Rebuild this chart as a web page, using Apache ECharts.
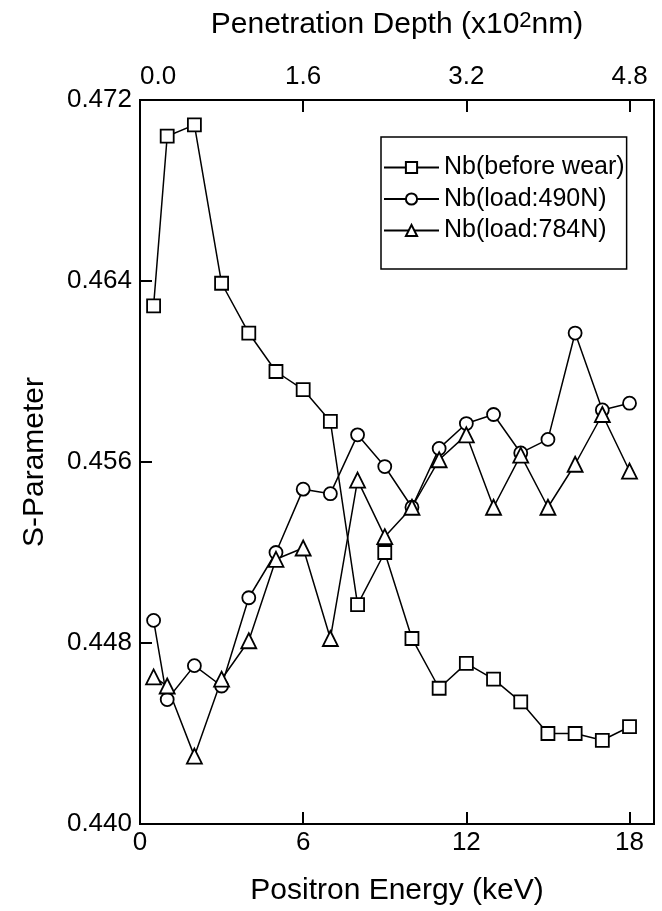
<!DOCTYPE html>
<html>
<head>
<meta charset="utf-8">
<script src="https://cdn.jsdelivr.net/npm/echarts@6/dist/echarts.min.js"></script>
<style>
  html, body { margin: 0; padding: 0; background: #fff; }
  #chart { width: 662px; height: 911px; }
</style>
</head>
<body>
<div id="chart"></div>
<script>
// positron energy (keV)
var energy = [0.5, 1, 2, 3, 4, 5, 6, 7, 8, 9, 10, 11, 12, 13, 14, 15, 16, 17, 18];
// S-parameter values
var beforeWear = [0.4629, 0.4704, 0.4709, 0.4639, 0.4617, 0.4600, 0.4592, 0.4578, 0.4497, 0.4520,
                  0.4482, 0.4460, 0.4471, 0.4464, 0.4454, 0.4440, 0.4440, 0.4437, 0.4443];
var load490 = [0.4490, 0.4455, 0.4470, 0.4461, 0.4500, 0.4520, 0.4548, 0.4546, 0.4572, 0.4558,
               0.4540, 0.4566, 0.4577, 0.4581, 0.4564, 0.4570, 0.4617, 0.4583, 0.4586];
var load784 = [0.4465, 0.4461, 0.4430, 0.4464, 0.4481, 0.4517, 0.4522, 0.4482, 0.4552, 0.4527,
               0.4540, 0.4561, 0.4572, 0.4540, 0.4563, 0.4540, 0.4559, 0.4581, 0.4556];
var seriesNames = ['Nb(before wear)', 'Nb(load:490N)', 'Nb(load:784N)'];

var font = 'Liberation Sans, Arial, sans-serif';
var eMax = 18.9;
var depthMax = eMax * 4.8 / 18;

function pairs(ys) {
  return energy.map(function (e, i) { return [e, ys[i]]; });
}

function mkSeries(name, ys, symbol, size) {
  return {
    name: name,
    type: 'line',
    data: pairs(ys),
    symbol: symbol,
    symbolSize: size,
    lineStyle: { color: '#000', width: 1.5 },
    itemStyle: { color: '#fff', borderColor: '#000', borderWidth: 1.8 },
    emphasis: { disabled: true },
    z: 3
  };
}

var chart = echarts.init(document.getElementById('chart'));
chart.setOption({
  animation: false,
  backgroundColor: '#fff',
  textStyle: { fontFamily: font, color: '#000' },
  grid: {
    left: 140, top: 100, width: 514, height: 738,
    show: true, borderColor: '#000', borderWidth: 2
  },
  legend: {
    orient: 'vertical',
    left: 381, top: 137,
    data: seriesNames,
    itemWidth: 55, itemHeight: 14,
    itemGap: 6.5,
    padding: [18, 2, 26, 2],
    borderColor: '#000', borderWidth: 1.5,
    textStyle: { fontSize: 25, fontFamily: font, color: '#000', lineHeight: 24 },
    selectedMode: false
  },
  xAxis: [{
    type: 'value', position: 'bottom', min: 0, max: eMax, interval: 6,
    name: 'Positron Energy (keV)', nameLocation: 'middle', nameGap: 52,
    nameTextStyle: { fontSize: 30, fontFamily: font, color: '#000' },
    axisLine: { lineStyle: { color: '#000', width: 2 } },
    axisTick: { inside: true, length: 12, lineStyle: { color: '#000', width: 2 } },
    axisLabel: {
      fontSize: 26, color: '#000', margin: 6,
      showMaxLabel: false,
      formatter: function (v) { return v % 6 === 0 ? String(v) : ''; }
    },
    splitLine: { show: false }
  }, {
    type: 'value', position: 'top', min: 0, max: depthMax, interval: 1.6,
    name: 'Penetration Depth (x10{sup|2}nm)', nameLocation: 'middle', nameGap: 60,
    nameTextStyle: {
      fontSize: 30, fontFamily: font, color: '#000',
      rich: { sup: { fontSize: 22, verticalAlign: 'top', padding: [0, 0, 8, 0], fontFamily: font } }
    },
    axisLine: { lineStyle: { color: '#000', width: 2 } },
    axisTick: { inside: true, length: 12, lineStyle: { color: '#000', width: 2 } },
    axisLabel: {
      fontSize: 26, color: '#000', margin: 10,
      showMaxLabel: false,
      alignMinLabel: 'left',
      formatter: function (v) { return v.toFixed(1); }
    },
    splitLine: { show: false }
  }],
  yAxis: {
    type: 'value', min: 0.440, max: 0.472, interval: 0.008,
    name: 'S-Parameter', nameLocation: 'middle', nameGap: 90, nameRotate: 90,
    nameTextStyle: { fontSize: 30, fontFamily: font, color: '#000' },
    axisLine: { show: true, lineStyle: { color: '#000', width: 2 } },
    axisTick: { inside: true, length: 12, lineStyle: { color: '#000', width: 2 } },
    axisLabel: {
      fontSize: 26, color: '#000', margin: 8,
      formatter: function (v) { return v.toFixed(3); }
    },
    splitLine: { show: false }
  },
  series: [
    mkSeries(seriesNames[0], beforeWear, 'rect', 13),
    mkSeries(seriesNames[1], load490, 'circle', 13),
    mkSeries(seriesNames[2], load784, 'triangle', 15)
  ]
});
</script>
</body>
</html>
